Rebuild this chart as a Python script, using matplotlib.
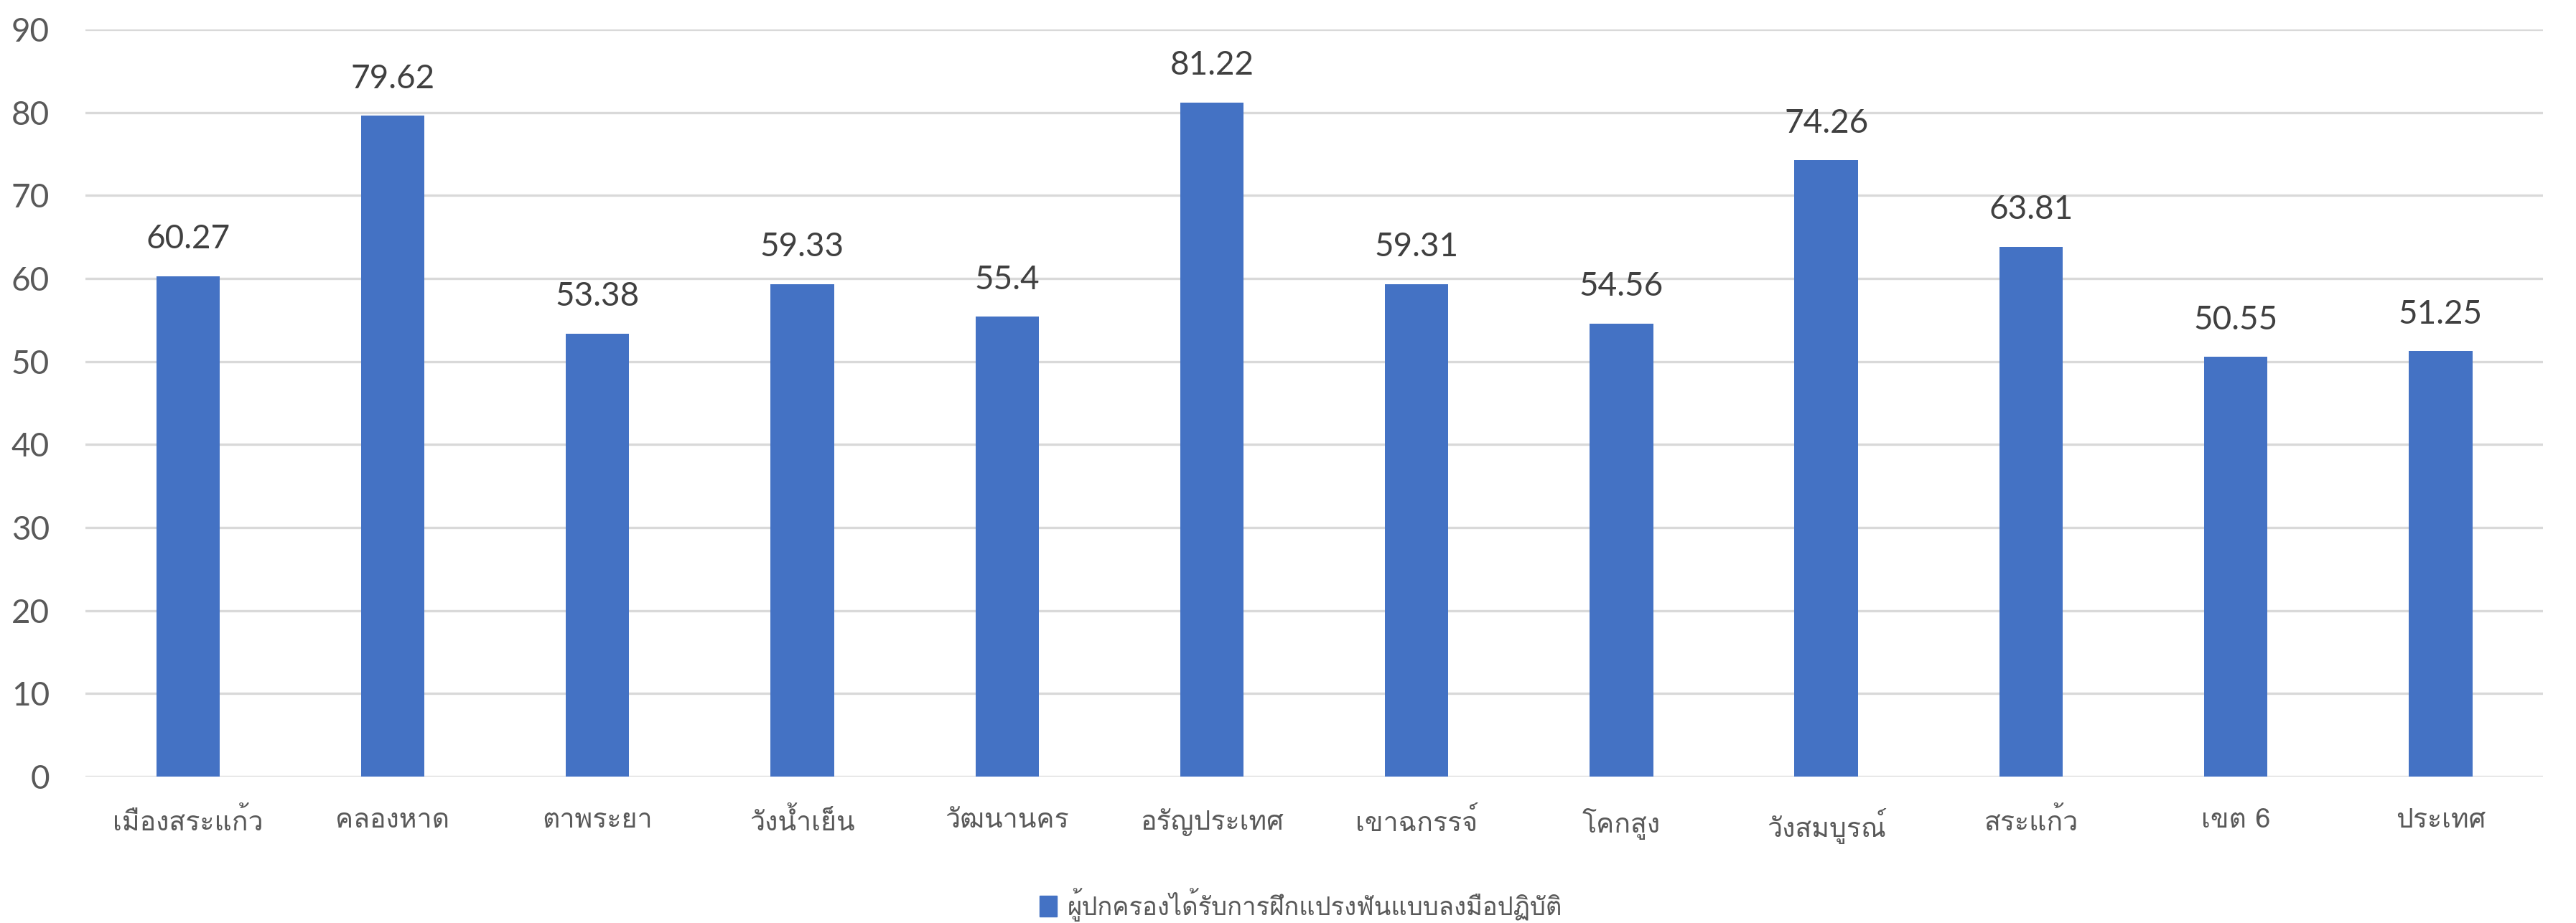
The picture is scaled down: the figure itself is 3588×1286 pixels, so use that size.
import matplotlib
matplotlib.use("Agg")
import matplotlib.pyplot as plt
from matplotlib import font_manager
from matplotlib.ft2font import FT2Font
from matplotlib.patches import Patch

districts = ["เมืองสระแก้ว", "คลองหาด", "ตาพระยา", "วังน้ำเย็น", "วัฒนานคร", "อรัญประเทศ",
             "เขาฉกรรจ์", "โคกสูง", "วังสมบูรณ์", "สระแก้ว", "เขต 6", "ประเทศ"]
values = [60.27, 79.62, 53.38, 59.33, 55.4, 81.22, 59.31, 54.56, 74.26, 63.81, 50.55, 51.25]
value_labels = ["60.27", "79.62", "53.38", "59.33", "55.4", "81.22",
                "59.31", "54.56", "74.26", "63.81", "50.55", "51.25"]
series_name = "ผู้ปกครองได้รับการฝึกแปรงฟันแบบลงมือปฏิบัติ"
yticks = [0, 10, 20, 30, 40, 50, 60, 70, 80, 90]

# find a font that has Thai glyphs, if there is one
thai_font = None
for f in font_manager.fontManager.ttflist:
    try:
        if 0x0E01 in FT2Font(f.fname).get_charmap():
            thai_font = f.name
            break
    except Exception:
        pass
families = [thai_font, "DejaVu Sans"] if thai_font else ["DejaVu Sans"]
plt.rcParams["font.family"] = families
num_font = ["Lato", "DejaVu Sans"]

bar_color = "#4472C4"
text_color = "#595959"

fig = plt.figure(figsize=(35.88, 12.86), dpi=100)
ax = fig.add_axes([0.0332, 0.1586, 0.9540, 0.8095])

x = list(range(len(districts)))
ax.bar(x, values, width=0.31, color=bar_color, zorder=3)

for xi, v, lab in zip(x, values, value_labels):
    ax.annotate(lab, (xi, v), xytext=(0, 22), textcoords="offset points",
                ha="center", va="bottom", fontsize=33, color="#404040",
                family=num_font)

ax.set_xlim(-0.5, len(districts) - 0.5)
ax.set_ylim(0, 90)
ax.set_yticks(yticks)
ax.set_yticklabels([str(t) for t in yticks], fontsize=33, color=text_color,
                   family=num_font)
ax.set_xticks(x)
ax.set_xticklabels(districts, fontsize=27, color=text_color)
ax.tick_params(axis="both", length=0)
ax.tick_params(axis="x", pad=32)
ax.tick_params(axis="y", pad=36)

ax.grid(axis="y", color="#D9D9D9", linewidth=2.4, zorder=0)
for s in ax.spines.values():
    s.set_visible(False)

fig.legend(handles=[Patch(color=bar_color)], labels=[series_name],
           loc="center", bbox_to_anchor=(0.505, 0.02), frameon=False,
           fontsize=25, labelcolor=text_color, handlelength=0.7, handleheight=0.9,
           handletextpad=0.4)

fig.savefig("out.png", dpi=100, facecolor="white")
